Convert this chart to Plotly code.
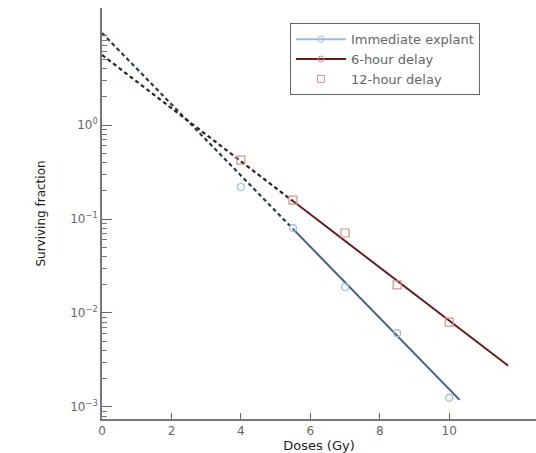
import plotly.graph_objects as go

# ---- data ----
doses = [4, 5.5, 7, 8.5, 10]
immediate_sf = [0.219, 0.080, 0.0189, 0.0061, 0.00125]
delay12_sf = [0.424, 0.159, 0.071, 0.0199, 0.0080]

# fitted lines: log10(SF) = intercept + slope * dose
immediate_fit = {"intercept": 0.979, "slope": -0.379, "solid_from": 5.5, "end": 10.3}
delay6_fit = {"intercept": 0.745, "slope": -0.2826, "solid_from": 5.5, "end": 11.7}

x_ticks = [0, 2, 4, 6, 8, 10]
y_ticks = [1, 0.1, 0.01, 0.001]
y_ticktext = ["10<sup>0</sup>", "10<sup>\u22121</sup>", "10<sup>\u22122</sup>", "10<sup>\u22123</sup>"]
y_minor = [k * 10 ** e for e in (-4, -3, -2, -1, 0, 1) for k in range(2, 10)]

Y_RANGE = [-3.128, 1.245]
FONT = "DejaVu Sans, Verdana, sans-serif"

BLUE = "#3f5f8f"
BLUE_DASH = "#2c3a55"
RED = "#6a1c1c"
RED_DASH = "#35201f"
BLUE_MK = "#9dbbdc"
RED_MK = "#dc8f8f"


def seg(fit, x0, x1):
    xs = [x0, x1]
    ys = [10 ** (fit["intercept"] + fit["slope"] * x) for x in xs]
    return xs, ys


fig = go.Figure()

for fit, col, dcol in ((immediate_fit, BLUE, BLUE_DASH), (delay6_fit, RED, RED_DASH)):
    xs, ys = seg(fit, 0, fit["solid_from"])
    fig.add_trace(go.Scatter(x=xs, y=ys, mode="lines", showlegend=False,
                             line=dict(color=dcol, width=2.2, dash="4px,3px")))
    xs, ys = seg(fit, fit["solid_from"], fit["end"])
    fig.add_trace(go.Scatter(x=xs, y=ys, mode="lines", showlegend=False,
                             line=dict(color=col, width=2)))

fig.add_trace(go.Scatter(x=doses, y=immediate_sf, mode="markers", showlegend=False,
                         marker=dict(symbol="circle-open", size=7, color=BLUE_MK, line=dict(width=1.2))))
fig.add_trace(go.Scatter(x=doses, y=delay12_sf, mode="markers", showlegend=False,
                         marker=dict(symbol="square-open", size=8, color=RED_MK, line=dict(width=1.2))))

# invisible trace that carries the minor-tick axis
fig.add_trace(go.Scatter(x=[doses[0]], y=[delay12_sf[0]], yaxis="y2", mode="markers",
                         marker=dict(opacity=0), showlegend=False, hoverinfo="skip"))

# legend entries
fig.add_trace(go.Scatter(x=[None], y=[None], mode="lines+markers", name="Immediate explant",
                         line=dict(color=BLUE_MK, width=2),
                         marker=dict(symbol="circle-open", size=6, color=BLUE_MK)))
fig.add_trace(go.Scatter(x=[None], y=[None], mode="lines+markers", name="6-hour delay",
                         line=dict(color=RED, width=2),
                         marker=dict(symbol="circle-open", size=6, color=RED_MK)))
fig.add_trace(go.Scatter(x=[None], y=[None], mode="markers", name="12-hour delay",
                         marker=dict(symbol="square-open", size=7, color=RED_MK)))

fig.update_layout(
    width=536, height=453,
    margin=dict(l=102, r=0, t=8, b=34),
    paper_bgcolor="white", plot_bgcolor="white",
    font=dict(family=FONT, size=12, color="#555"),
    legend=dict(x=0.433, y=0.963, xanchor="left", yanchor="top",
                bordercolor="#666", borderwidth=1, bgcolor="white",
                font=dict(family=FONT, size=13, color="#666"), tracegroupgap=0,
                itemwidth=50),
    yaxis2=dict(type="log", range=Y_RANGE, overlaying="y", side="left", anchor="x",
                tickmode="array", tickvals=y_minor, ticks="inside", ticklen=5, tickwidth=1,
                tickcolor="#777", showticklabels=False, showgrid=False, zeroline=False,
                showline=False, automargin=False),
)
fig.update_xaxes(range=[0, 12.5], tickmode="array", tickvals=x_ticks, ticks="inside",
                 ticklen=6, tickwidth=1, tickcolor="#666", showline=True, linecolor="#777",
                 linewidth=1.5, showgrid=False, zeroline=False, automargin=False,
                 tickfont=dict(family=FONT, size=12, color="#666"),
                 title=dict(text="Doses (Gy)", font=dict(family=FONT, size=13, color="#222"), standoff=12))
fig.layout.yaxis.update(type="log", range=Y_RANGE, tickmode="array", tickvals=y_ticks,
                        ticktext=y_ticktext, ticks="inside", ticklen=10, tickwidth=1,
                        tickcolor="#666", showline=True, linecolor="#777", linewidth=1.5,
                        showgrid=False, zeroline=False, automargin=False,
                        tickfont=dict(family=FONT, size=12, color="#666"),
                        title=dict(text="Surviving fraction", font=dict(family=FONT, size=12, color="#222"),
                                   standoff=22))

fig.write_html("out.html")
